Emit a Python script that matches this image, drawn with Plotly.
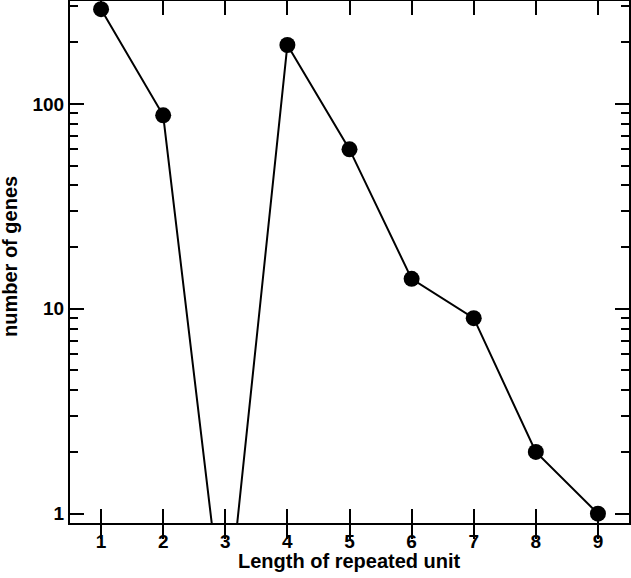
import plotly.graph_objects as go
import math

repeat_length = [1, 2, 3, 4, 5, 6, 7, 8, 9]
num_genes = [290, 88, 0.25, 194, 60, 14, 9, 2, 1]

x_ticks = [1, 2, 3, 4, 5, 6, 7, 8, 9]
y_major_ticks = [1, 10, 100]
y_major_labels = ["1", "10", "100"]
y_minor_ticks = [2, 3, 4, 5, 6, 7, 8, 9, 20, 30, 40, 50, 60, 70, 80, 90, 200, 300]
x_title = "Length of repeated unit"
y_title = "number of genes"

FONT = "Liberation Sans, Arial, Helvetica, sans-serif"
y_range = [math.log10(0.9), math.log10(318)]

fig = go.Figure()
fig.add_trace(go.Scatter(
    x=repeat_length, y=num_genes, mode="lines+markers",
    line=dict(color="black", width=2),
    marker=dict(color="black", size=16, symbol="circle"),
    showlegend=False,
))
# empty trace to anchor the minor-tick overlay axis
fig.add_trace(go.Scatter(x=[None], y=[None], yaxis="y2", mode="markers",
                         showlegend=False, hoverinfo="skip"))

fig.update_layout(
    width=631, height=578,
    margin=dict(l=70, r=2, t=1, b=55, autoexpand=False),
    paper_bgcolor="white", plot_bgcolor="white",
    font=dict(family=FONT, color="black"),
)
fig.update_xaxes(
    range=[0.5, 9.5], tickmode="array", tickvals=x_ticks,
    ticks="inside", ticklen=14, tickwidth=2, tickcolor="black",
    showline=True, linewidth=2, linecolor="black", mirror="allticks",
    showgrid=False, zeroline=False, automargin=False,
    tickfont=dict(size=19, family=FONT, weight="bold"),
)
fig.update_layout(
    yaxis=dict(
        type="log", range=y_range,
        tickmode="array", tickvals=y_major_ticks, ticktext=y_major_labels,
        ticks="inside", ticklen=14, tickwidth=2, tickcolor="black",
        showline=True, linewidth=2, linecolor="black", mirror="allticks",
        showgrid=False, zeroline=False, automargin=False,
        tickfont=dict(size=19, family=FONT, weight="bold"),
    ),
    yaxis2=dict(
        type="log", range=y_range, overlaying="y", side="left",
        tickmode="array", tickvals=y_minor_ticks, showticklabels=False,
        ticks="inside", ticklen=8, tickwidth=2, tickcolor="black",
        showline=True, linewidth=2, linecolor="black", mirror="allticks",
        showgrid=False, zeroline=False, automargin=False,
    ),
)
fig.add_annotation(
    text="<b>" + x_title + "</b>", xref="paper", yref="paper", x=0.5, y=0,
    xanchor="center", yanchor="middle", yshift=-38, showarrow=False,
    font=dict(size=20, family=FONT, color="black"),
)
fig.add_annotation(
    text="<b>" + y_title + "</b>", xref="paper", yref="paper", x=0, y=0.5,
    xanchor="center", yanchor="middle", xshift=-60, yshift=5, textangle=-90,
    showarrow=False, font=dict(size=20, family=FONT, color="black"),
)

fig.write_html("out.html", config={"displayModeBar": False},
               post_script="document.body.style.margin='0';")
